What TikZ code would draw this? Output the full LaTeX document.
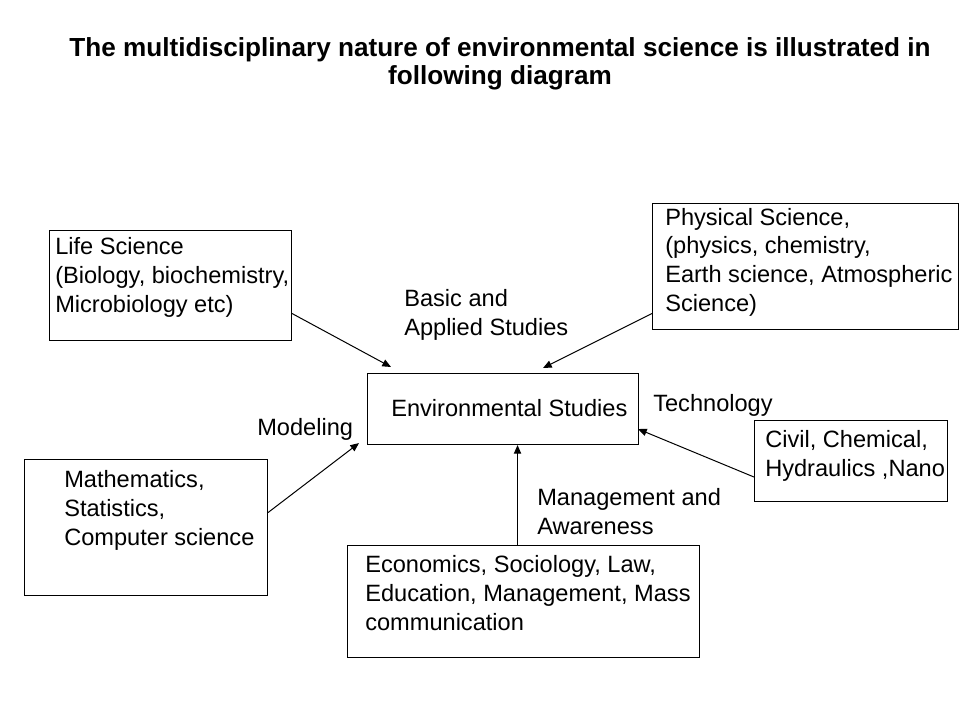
\documentclass[tikz,border=0pt]{standalone}
\usepackage{fontspec}
\setmainfont{Liberation Sans}
\usetikzlibrary{calc,arrows.meta}

\tikzset{
  box/.style 2 args={draw, line width=0.8pt, inner sep=0, anchor=north west,
    minimum width=#1*0.75pt, minimum height=#2*0.75pt},
  txt/.style={anchor=base west, inner sep=0, align=left, font=\fontsize{17.7}{21.4}\selectfont},
  link/.style={line width=0.75pt, -{Triangle[length=6.5pt,width=5.5pt]}}
}

\begin{document}
\begin{tikzpicture}[x=0.75pt,y=-0.75pt]
\useasboundingbox (0,0) rectangle (960,720);

\node[anchor=base, inner sep=0, align=center, font=\bfseries\fontsize{19.6}{21}\selectfont] (title) at (500,85) {The multidisciplinary nature of environmental science is illustrated in\\following diagram};

\node[box={242}{110}] (lifebox) at (49,230) {};
\node[box={306}{126}] (physbox) at (652,203) {};
\node[box={271}{71}] (envbox) at (367,373) {};
\node[box={193}{81}] (civilbox) at (754,420) {};
\node[box={243}{136}] (mathbox) at (24,459) {};
\node[box={352}{112}] (econbox) at (347,545) {};

\node[txt] (life) at (55,312) {Life Science\\(Biology, biochemistry,\\Microbiology etc)};
\node[txt] (phys) at (665,311) {Physical Science,\\(physics, chemistry,\\Earth science, Atmospheric\\Science)};
\node[txt] (env) at (391,416) {Environmental Studies};
\node[txt] (civil) at (765,476) {Civil, Chemical,\\Hydraulics ,Nano};
\node[txt] (math) at (64,545) {Mathematics,\\Statistics,\\Computer science};
\node[txt] (econ) at (365,630) {Economics, Sociology, Law,\\Education, Management, Mass\\communication};

\node[txt] (basic) at (404,335) {Basic and\\Applied Studies};
\node[txt] (tech) at (653,411) {Technology};
\node[txt] (model) at (257,435) {Modeling};
\node[txt] (mgmt) at (537,534) {Management and\\Awareness};

\path[draw,link] ($(lifebox.east)+(0,28)$) -- ($(envbox.north west)+(24,-6)$);
\path[draw,link] ($(physbox.west)+(0,47)$) -- ($(envbox.north)+(40,-5)$);
\path[draw,link] ($(mathbox.east)+(0,-15)$) -- ($(envbox.south west)+(-8,-2)$);
\path[draw,link] ($(econbox.north)+(-6,0)$) -- ($(envbox.south)+(14.5,0)$);
\path[draw,link] ($(civilbox.west)+(0,16)$) -- ($(envbox.east)+(-1,20)$);
\end{tikzpicture}
\end{document}
